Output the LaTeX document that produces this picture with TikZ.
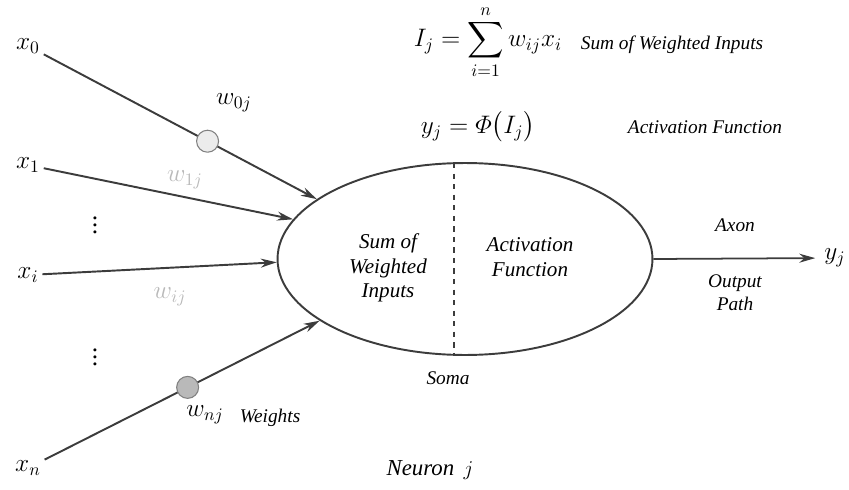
\documentclass[tikz,border=0pt]{standalone}
\usepackage{amsmath,amssymb}
\usepackage{fontspec}
\setmainfont{Liberation Serif}
\newfontfamily\lblfont{Liberation Serif}
\usepackage{tikz}
\usetikzlibrary{arrows.meta,shapes.geometric,calc}
\definecolor{inkgray}{RGB}{60,60,60}
\definecolor{fadegray}{RGB}{185,185,185}

\begin{document}
\begin{tikzpicture}[x=0.02cm,y=-0.02cm,>={Stealth[length=3.2mm,width=1.8mm]},
    inp/.style={font=\Large,inner sep=2pt},
    lbl/.style={font=\lblfont\itshape\fontsize{11}{13}\selectfont,align=center},
    wire/.style={->,inkgray,line width=1.1pt},
    wt/.style={circle,draw=gray,line width=0.6pt,minimum size=4.4mm,inner sep=0pt}]
  \useasboundingbox (0,0) rectangle (849,490);
  % soma, split in two halves
  \node[ellipse,draw=inkgray,line width=1.1pt,minimum width=7.5cm,minimum height=3.84cm] (soma) at (465,259) {};
  \draw[inkgray,dashed,line width=1pt] ($(soma.north)+(-11,1)$) -- ($(soma.south)+(-11,-1)$);
  \node[lbl,font=\lblfont\itshape\fontsize{12}{14}\selectfont] (sumin) at (388,268) {Sum of\\Weighted\\Inputs};
  \node[lbl,font=\lblfont\itshape\fontsize{12}{14}\selectfont] (actin) at (530,257) {Activation\\Function};
  \node[lbl] (somalbl) at (448,378) {Soma};
  % inputs
  \node[inp] (x0) at (28,46) {$x_0$};
  \node[inp] (x1) at (28,165) {$x_1$};
  \node[inp] (xi) at (28,275) {$x_i$};
  \node[inp] (xn) at (28,468) {$x_n$};
  \node[font=\Large] (dots1) at (95,220) {$\vdots$};
  \node[font=\Large] (dots2) at (95,352) {$\vdots$};
  % weighted connections
  \draw[wire] (x0) -- node[wt,fill=gray!15,pos=0.6] (w0) {} (soma.158);
  \node[font=\Large] (lw0) at (234,103) {$w_{0j}$};
  \draw[wire] (x1) -- (soma.167);
  \node[font=\Large,fadegray] (lw1) at (185,180) {$w_{1j}$};
  \draw[wire] (xi) -- (soma.181);
  \node[font=\Large,fadegray] (lwi) at (170,297) {$w_{ij}$};
  \draw[wire] (xn) -- node[wt,fill=gray!55,pos=0.52] (wn) {} (soma.203);
  \node[font=\Large] (lwn) at (205,415) {$w_{nj}$};
  \node[lbl] (wts) at (270,418) {Weights};
  % output
  \node[font=\Large,inner sep=5pt] (yj) at (835,258) {$y_j$};
  \draw[->,inkgray,line width=1pt] (soma.east) -- (yj);
  \node[lbl] (axon) at (735,225) {Axon};
  \node[lbl] (outpath) at (735,293) {Output\\Path};
  % equations
  \node[font=\Large] (sumeq) at (488,42) {$\displaystyle I_j=\sum_{i=1}^{n} w_{ij}x_i$};
  \node[lbl] (sumtxt) at (672,45) {Sum of Weighted Inputs};
  \node[font=\Large] (acteq) at (478,127) {$y_j=\varPhi\bigl(I_j\bigr)$};
  \node[lbl] (acttxt) at (705,127) {Activation Function};
  \node[font=\lblfont\itshape\fontsize{13}{15}\selectfont] (neuron) at (430,470) {Neuron \,$j$};
\end{tikzpicture}
\end{document}
